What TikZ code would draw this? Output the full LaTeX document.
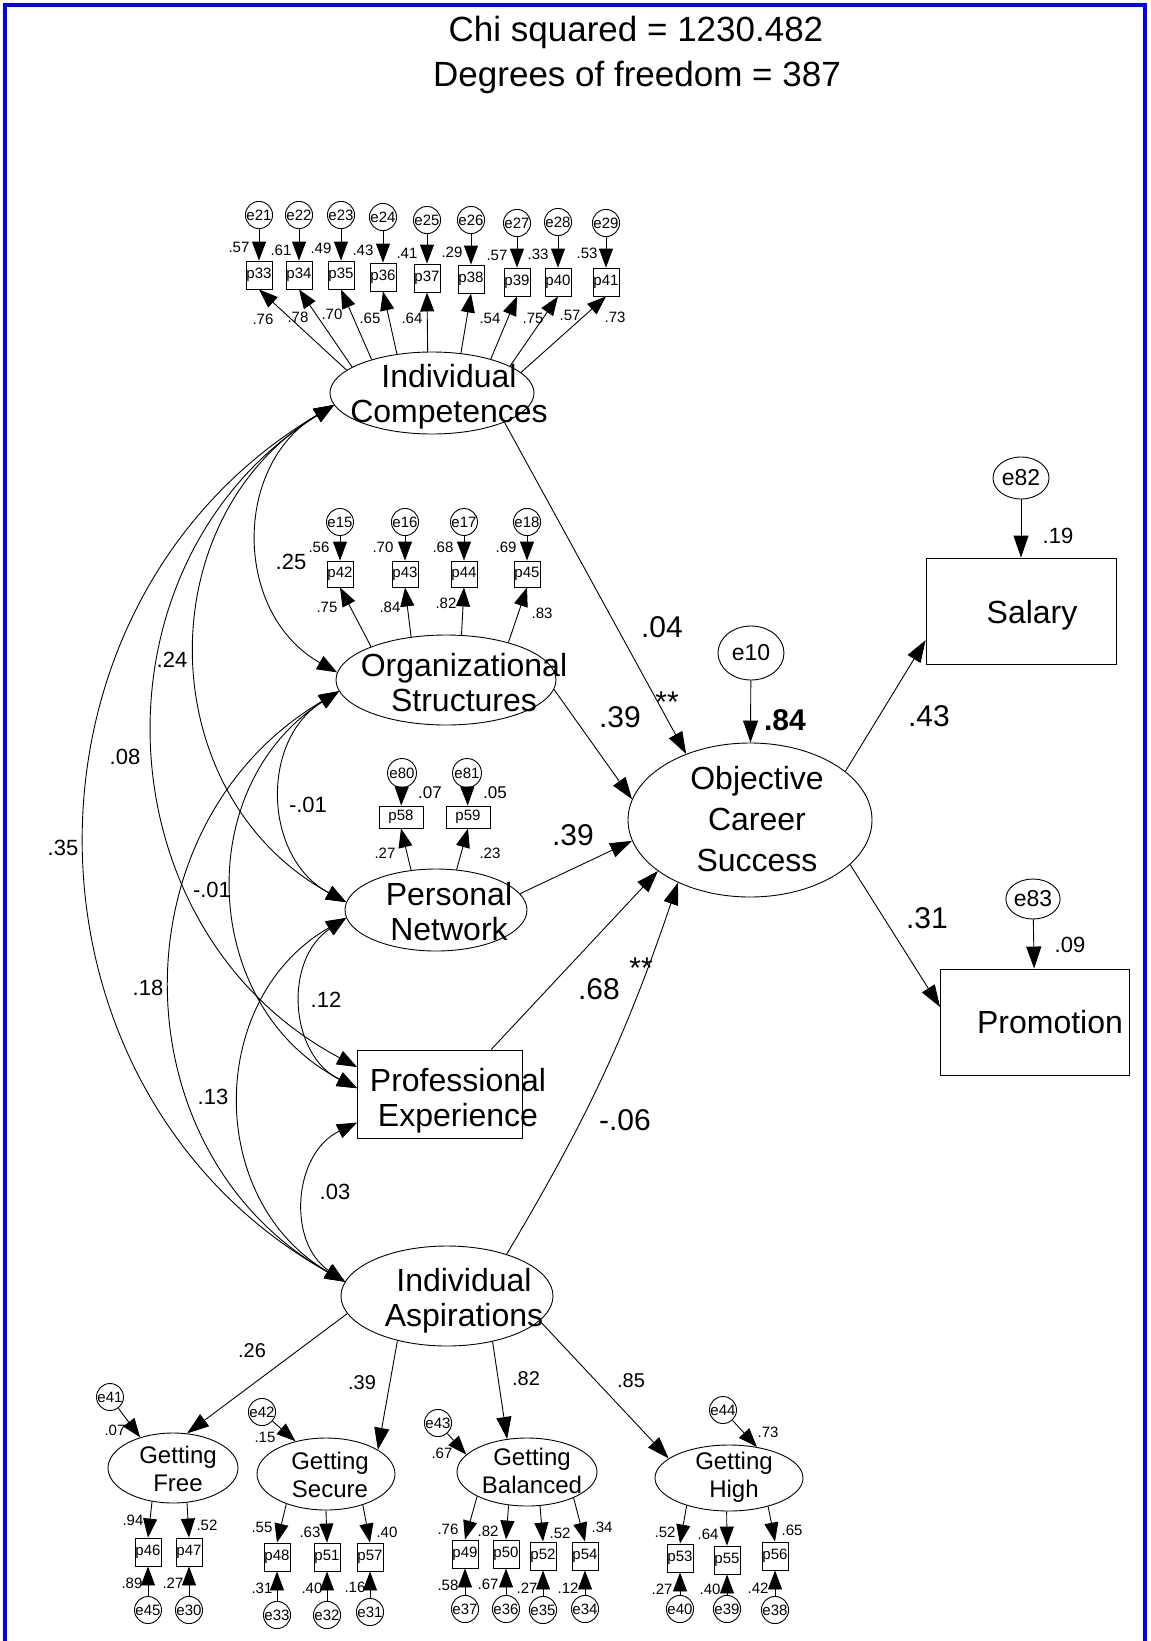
\documentclass[tikz,border=0pt]{standalone}
\usepackage{fontspec}
\setmainfont{Liberation Sans}
\usetikzlibrary{shapes.geometric,arrows.meta}
\begin{document}
\begin{tikzpicture}[x=1pt,y=-1pt,line width=0.9pt,
  f35/.style={font=\fontsize{35}{43}\selectfont},
  f32/.style={font=\fontsize{32}{35}\selectfont},
  f30/.style={font=\fontsize{30}{34}\selectfont},
  f24/.style={font=\fontsize{24}{28}\selectfont},
  f23/.style={font=\fontsize{23}{26}\selectfont},
  f22/.style={font=\fontsize{22}{25}\selectfont},
  f20/.style={font=\fontsize{20}{23}\selectfont},
  f17/.style={font=\fontsize{17}{19}\selectfont},
  f15/.style={font=\fontsize{15}{17}\selectfont},
  lat/.style={draw,ellipse,inner sep=0pt},
  obs/.style={draw,rectangle,inner sep=0pt},
  ind/.style={obs,minimum width=26pt,minimum height=28pt,f15},
  err/.style={draw,circle,inner sep=0pt,minimum size=27pt,f15},
  lab/.style={inner sep=0pt},
  sarrow/.style={-{Triangle[length=22pt,width=15pt]}},
  iarrow/.style={-{Triangle[length=19pt,width=14pt]}},
  cov/.style={{Triangle[length=20pt,width=15pt]}-{Triangle[length=20pt,width=15pt]},bend right=60,looseness=1.135},
]
\useasboundingbox (0,0) rectangle (1151,1641);
\fill[white] (0,0) rectangle (1151,1641);
\draw[blue,line width=3.5pt] (5,5) rectangle (1145,1700);

% fit statistics
\node[f35,anchor=base] (chi) at (636,41) {Chi squared = 1230.482};
\node[f35,anchor=base] (dof) at (637,86) {Degrees of freedom = 387};

% latent and observed constructs
\node[lat,minimum width=204pt,minimum height=82pt] (IC) at (432,393) {};
\node[f32,align=center] (ICt) at (449,397) {Individual\\Competences};
\node[lat,minimum width=220pt,minimum height=90pt] (OS) at (446,680) {};
\node[f32,align=center] (OSt) at (464,683) {Organizational\\Structures};
\node[lat,minimum width=182pt,minimum height=82pt] (PN) at (436,910) {};
\node[f32,align=center] (PNt) at (449,912) {Personal\\Network};
\node[obs,minimum width=165pt,minimum height=88pt] (PE) at (440,1094) {};
\node[f32,align=center] (PEt) at (458,1101) {Professional\\Experience};
\node[lat,minimum width=212pt,minimum height=100pt] (IA) at (447,1296) {};
\node[f32,align=center] (IAt) at (464,1301) {Individual\\Aspirations};
\node[lat,minimum width=244pt,minimum height=154pt] (OCS) at (750,820) {};
\node[align=center,font=\fontsize{32}{41}\selectfont] (OCSt) at (757,819) {Objective\\Career\\Success};
\node[lat,minimum width=66pt,minimum height=54pt,f23] (e10) at (751,653) {e10};
\node[obs,minimum width=190pt,minimum height=106pt] (Salary) at (1021,611) {};
\node[f32] (Salaryt) at (1032,615) {Salary};
\node[obs,minimum width=189pt,minimum height=106pt] (Promotion) at (1035,1022) {};
\node[f32] (Promotiont) at (1050,1022) {Promotion};
\node[lat,minimum width=56pt,minimum height=42pt,f23] (e82) at (1021,478) {e82};
\node[lat,minimum width=52pt,minimum height=40pt,f23] (e83) at (1033,899) {e83};

% indicators of Individual Competences
\foreach \p/\e/\x/\ye/\yp/\a/\u/\ux/\uy/\l/\lx/\ly in {
 33/21/259/215/275/165/.57/239/247/.76/263/319,
 34/22/299/215/275/162/.61/281/250/.78/298/317,
 35/23/341/215/275/151/.49/321/248/.70/332/314,
 36/24/383/217/277/132/.43/363/250/.65/370/318,
 37/25/427/220/278/96/.41/407/253/.64/412/318,
 38/26/471/220/279/54/.29/452/252/.54/490/318,
 39/27/517/223/282/30/.57/497/255/.75/533/318,
 40/28/558/222/282/19/.33/538/254/.57/570/315,
 41/29/606/223/282/13/.53/587/253/.73/615/317}{
  \node[ind] (p\p) at (\x,\yp) {p\p};
  \node[err] (e\e) at (\x,\ye) {e\e};
  \draw[iarrow] (e\e) -- (p\p);
  \draw[iarrow] (IC.\a) -- (p\p.south);
  \node[lab,f15] (u\p) at (\ux,\uy) {\u};
  \node[lab,f15] (l\p) at (\lx,\ly) {\l};
}

% indicators of Organizational Structures
\foreach \p/\e/\x/\ye/\yp/\a/\u/\ux/\uy/\l/\lx/\ly in {
 42/15/340/522/574/156/.56/319/547/.75/327/607,
 43/16/405/522/574/129/.70/383/547/.84/390/607,
 44/17/464/522/574/71/.68/443/547/.82/446/603,
 45/18/527/522/574/31/.69/506/547/.83/542/613}{
  \node[ind,minimum height=26pt] (p\p) at (\x,\yp) {p\p};
  \node[err] (e\e) at (\x,\ye) {e\e};
  \draw[iarrow] (e\e) -- (p\p);
  \draw[iarrow] (OS.\a) -- (p\p.south);
  \node[lab,f15] (u\p) at (\ux,\uy) {\u};
  \node[lab,f15] (l\p) at (\lx,\ly) {\l};
}

% indicators of Personal Network
\node[ind,minimum width=44pt,minimum height=22pt] (p58) at (401,817) {p58};
\node[ind,minimum width=44pt,minimum height=22pt] (p59) at (468,817) {p59};
\node[err,minimum size=29pt] (e80) at (402,773) {e80};
\node[err,minimum size=29pt] (e81) at (467,773) {e81};
\draw[iarrow] (e80) -- (p58);
\draw[iarrow] (e81) -- (p59);
\draw[iarrow] (PN.122) -- (p58.south);
\draw[iarrow] (PN.63) -- (p59.south);
\node[lab,f17] (u58) at (430,793) {.07};
\node[lab,f17] (u59) at (495,793) {.05};
\node[lab,f15] (l58) at (385,853) {.27};
\node[lab,f15] (l59) at (490,853) {.23};

% second-order factors of Individual Aspirations
\node[lat,minimum width=130pt,minimum height=70pt] (GF) at (173,1468) {};
\node[f24,align=center] (GFt) at (178,1469) {Getting\\Free};
\node[lat,minimum width=138pt,minimum height=72pt] (GS) at (326,1474) {};
\node[f24,align=center] (GSt) at (330,1475) {Getting\\Secure};
\node[lat,minimum width=140pt,minimum height=68pt] (GB) at (527,1472) {};
\node[f24,align=center] (GBt) at (532,1471) {Getting\\Balanced};
\node[lat,minimum width=148pt,minimum height=66pt] (GH) at (729,1478) {};
\node[f24,align=center] (GHt) at (734,1477) {Getting\\High};
\node[err] (e41) at (110,1397) {e41};
\node[err] (e42) at (262,1412) {e42};
\node[err] (e43) at (438,1423) {e43};
\node[err] (e44) at (723,1410) {e44};
\draw[iarrow] (e41) -- (GF.137);
\draw[iarrow] (e42) -- (GS.133);
\draw[iarrow] (e43) -- (GB.164);
\draw[iarrow] (e44) -- (GH.48);
\node[lab,f15] (r41) at (115,1430) {.07};
\node[lab,f15] (r42) at (265,1437) {.15};
\node[lab,f15] (r43) at (442,1453) {.67};
\node[lab,f15] (r44) at (768,1432) {.73};
\draw[sarrow] (IA.190) -- (GF.68);
\draw[sarrow] (IA.222) -- (GS.25);
\draw[sarrow] (IA.315) -- (GB.121);
\draw[sarrow] (IA.345) -- (GH.162);
\node[lab,f20] (gF) at (252,1351) {.26};
\node[lab,f20] (gS) at (362,1383) {.39};
\node[lab,f20] (gB) at (526,1379) {.82};
\node[lab,f20] (gH) at (631,1381) {.85};

% indicators of the four Getting factors
\foreach \p/\e/\x/\yp/\ye/\G/\a/\u/\ux/\uy/\l/\lx/\ly in {
 46/45/148/1552/1610/GF/238/.94/133/1520/.89/132/1583,
 47/30/189/1552/1610/GF/292/.52/207/1525/.27/173/1583,
 48/33/277/1557/1615/GS/217/.55/262/1527/.31/262/1588,
 51/32/327/1557/1615/GS/270/.63/310/1532/.40/312/1588,
 57/31/370/1557/1612/GS/320/.40/387/1532/.16/355/1587,
 49/37/465/1554/1609/GB/206/.76/448/1529/.58/448/1585,
 50/36/506/1554/1609/GB/241/.82/488/1531/.67/488/1584,
 52/35/543/1556/1610/GB/291/.52/560/1533/.27/527/1588,
 54/34/585/1556/1609/GB/331/.34/602/1527/.12/568/1588,
 53/40/680/1558/1609/GH/213/.52/665/1532/.27/662/1589,
 55/39/727/1560/1609/GH/266/.64/708/1534/.40/710/1589,
 56/38/775/1556/1610/GH/324/.65/792/1530/.42/758/1588}{
  \node[ind] (p\p) at (\x,\yp) {p\p};
  \node[err] (e\e) at (\x,\ye) {e\e};
  \draw[iarrow] (e\e) -- (p\p);
  \draw[iarrow] (\G.\a) -- (p\p.north);
  \node[lab,f15] (u\p) at (\ux,\uy) {\u};
  \node[lab,f15] (l\p) at (\lx,\ly) {\l};
}

% covariances among the exogenous constructs
\draw[cov] (IC.187) to (OS.176);
\draw[cov] (IC.187) to (PN.175);
\draw[cov] (IC.187) to (PE.162);
\draw[cov] (IC.187) to (IA.172);
\draw[cov] (OS.186) to (PN.175);
\draw[cov] (OS.186) to (PE.176);
\draw[cov] (OS.186) to (IA.172);
\draw[cov] (PN.185) to (PE.176);
\draw[cov] (PN.185) to (IA.172);
\draw[cov] (PE.199) to (IA.172);
\node[lab,f22] (c1) at (291,562) {.25};
\node[lab,f22] (c2) at (172,660) {.24};
\node[lab,f22] (c3) at (125,757) {.08};
\node[lab,f22] (c4) at (63,848) {.35};
\node[lab,f22] (c5) at (308,805) {-.01};
\node[lab,f22] (c6) at (212,890) {-.01};
\node[lab,f22] (c7) at (148,988) {.18};
\node[lab,f22] (c8) at (326,1000) {.12};
\node[lab,f22] (c9) at (213,1097) {.13};
\node[lab,f22] (c10) at (335,1192) {.03};

% structural paths
\draw[sarrow] (IC.338) -- (OCS.134);
\draw[sarrow] (OS.355) -- (OCS.170);
\draw[sarrow] (PN.11) -- (OCS.190);
\draw[sarrow] (PE.41) -- (OCS.209);
\draw[sarrow] (IA.35) to[bend right=6] (OCS.221);
\draw[sarrow] (e10) -- (OCS);
\draw[sarrow] (OCS.27) -- (Salary.197);
\draw[sarrow] (OCS.336) -- (Promotion.171);
\draw[sarrow] (e82) -- (Salary);
\draw[sarrow] (e83) -- (Promotion);
\node[lab,f30] (s1) at (662,627) {.04};
\node[lab,f30] (s1a) at (667,702) {**};
\node[lab,f30] (s2) at (620,717) {.39};
\node[lab,f30] (s3) at (573,835) {.39};
\node[lab,f30] (s4) at (599,989) {.68};
\node[lab,f30] (s4a) at (641,968) {**};
\node[lab,f30] (s5) at (625,1120) {-.06};
\node[lab,f30,font=\fontsize{30}{34}\selectfont\bfseries] (r10) at (785,720) {.84};
\node[lab,f30] (s6) at (929,716) {.43};
\node[lab,f30] (s7) at (927,918) {.31};
\node[lab,f22] (r82) at (1058,536) {.19};
\node[lab,f22] (r83) at (1070,945) {.09};
\end{tikzpicture}
\end{document}
